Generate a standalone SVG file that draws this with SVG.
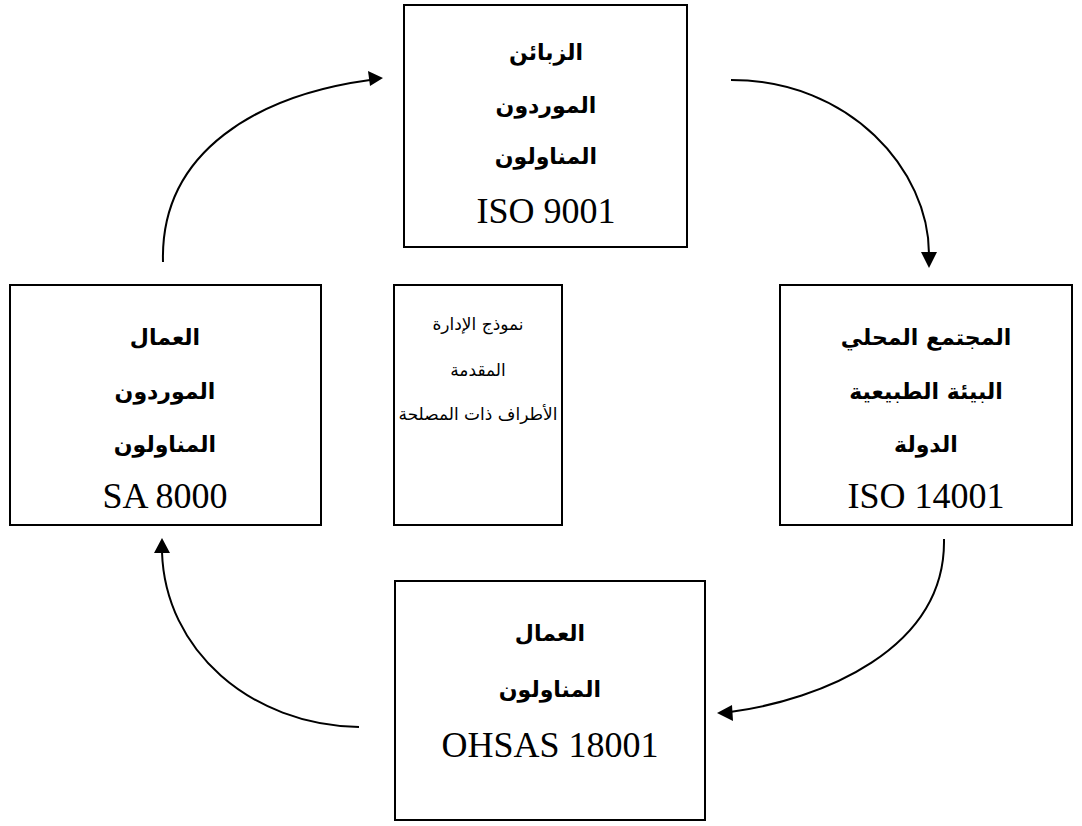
<svg xmlns="http://www.w3.org/2000/svg" width="1082" height="826" viewBox="0 0 1082 826">
  <style>
    .box { fill: #ffffff; stroke: #000000; stroke-width: 2; }
    .link { fill: none; stroke: #000000; stroke-width: 2; }
    .head { fill: #000000; }
    .ar { font-family: "DejaVu Sans", "Liberation Serif", serif; font-size: 22px; font-weight: bold; text-anchor: middle; fill: #000; }
    .arl { font-family: "DejaVu Sans", "Liberation Serif", serif; font-size: 17px; font-weight: normal; text-anchor: middle; fill: #000; }
    .lat { font-family: "Liberation Serif", "Times New Roman", serif; font-size: 36px; text-anchor: middle; fill: #000; }
  </style>
  <rect width="1082" height="826" fill="#ffffff"/>

  <!-- curved arrows running clockwise between the four standards -->
  <g id="connectors">
    <path class="link" d="M163,262 C160,150 260,95 370,80"/>
    <path class="head" d="M383,78 L368,71 L370,86 Z"/>
    <path class="link" d="M731,80 C850,80 929,170 929,254"/>
    <path class="head" d="M929,268 L921,252 L937,252 Z"/>
    <path class="link" d="M944,539 C946,650 820,700 730,712"/>
    <path class="head" d="M717,713 L732,705 L733,721 Z"/>
    <path class="link" d="M359,727 C250,725 165,650 162,552"/>
    <path class="head" d="M162,538 L154,553 L170,553 Z"/>
  </g>

  <g id="node-top">
    <rect class="box" x="404" y="5" width="283" height="242"/>
    <text class="ar" x="546" y="60">الزبائن</text>
    <text class="ar" x="546" y="113">الموردون</text>
    <text class="ar" x="546" y="164">المناولون</text>
    <text class="lat" x="546" y="223">ISO 9001</text>
  </g>

  <g id="node-left">
    <rect class="box" x="10" y="285" width="311" height="240"/>
    <text class="ar" x="165" y="345">العمال</text>
    <text class="ar" x="165" y="399">الموردون</text>
    <text class="ar" x="165" y="452">المناولون</text>
    <text class="lat" x="165" y="508">SA 8000</text>
  </g>

  <g id="node-center">
    <rect class="box" x="394" y="285" width="168" height="240"/>
    <text class="arl" x="478" y="330">نموذج الإدارة</text>
    <text class="arl" x="478" y="376">المقدمة</text>
    <text class="arl" x="478" y="420">الأطراف ذات المصلحة</text>
  </g>

  <g id="node-right">
    <rect class="box" x="780" y="285" width="292" height="240"/>
    <text class="ar" x="926" y="345">المجتمع المحلي</text>
    <text class="ar" x="926" y="399">البيئة الطبيعية</text>
    <text class="ar" x="926" y="452">الدولة</text>
    <text class="lat" x="926" y="508">ISO 14001</text>
  </g>

  <g id="node-bottom">
    <rect class="box" x="395" y="581" width="310" height="239"/>
    <text class="ar" x="550" y="641">العمال</text>
    <text class="ar" x="550" y="697">المناولون</text>
    <text class="lat" x="550" y="757">OHSAS 18001</text>
  </g>
</svg>
